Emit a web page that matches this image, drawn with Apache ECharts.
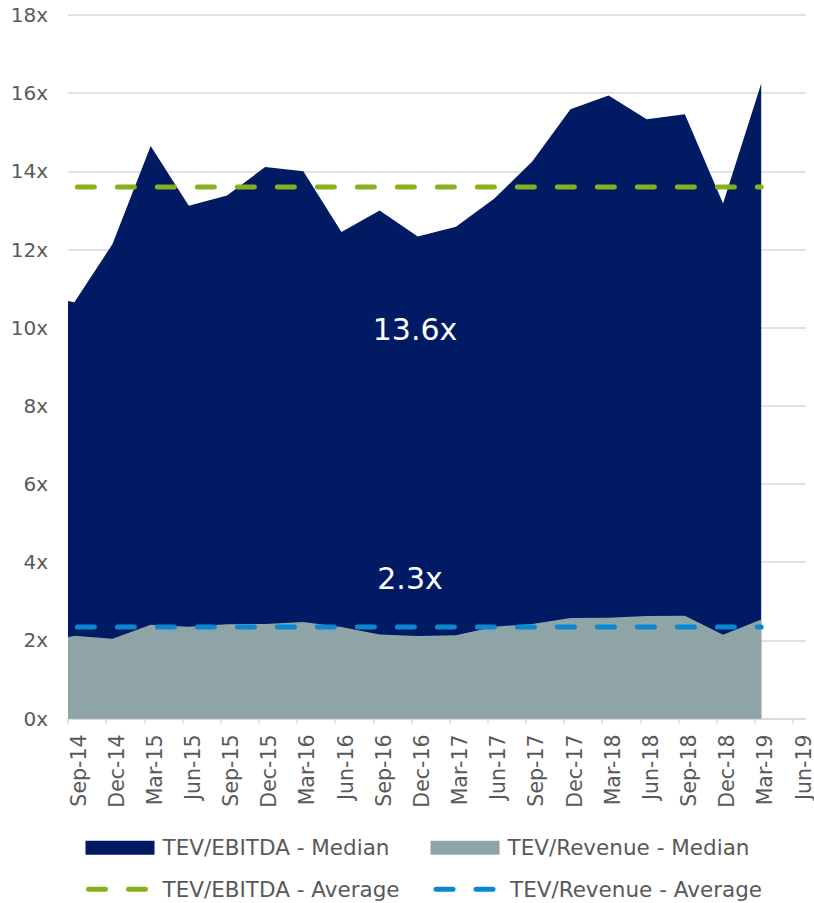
<!DOCTYPE html>
<html>
<head>
<meta charset="utf-8">
<title>TEV multiples</title>
<script src="https://cdn.jsdelivr.net/npm/echarts@6.0.0/dist/echarts.min.js"></script>
<style>
  html, body { margin: 0; padding: 0; background: #fff; }
  #main { width: 814px; height: 903px; }
</style>
</head>
<body>
<div id="main"></div>
<script>
// quarter tick labels on the date axis
var xLabels = ['Sep-14', 'Dec-14', 'Mar-15', 'Jun-15', 'Sep-15', 'Dec-15', 'Mar-16', 'Jun-16',
  'Sep-16', 'Dec-16', 'Mar-17', 'Jun-17', 'Sep-17', 'Dec-17', 'Mar-18', 'Jun-18',
  'Sep-18', 'Dec-18', 'Mar-19', 'Jun-19'];

// observation dates
var dates = ['2014-09-01', '2014-09-16', '2014-12-16', '2015-03-16', '2015-06-16', '2015-09-16',
  '2015-12-16', '2016-03-16', '2016-06-16', '2016-09-16', '2016-12-16', '2017-03-16',
  '2017-06-16', '2017-09-16', '2017-12-16', '2018-03-16', '2018-06-16', '2018-09-16',
  '2018-12-16', '2019-03-16'];

var ebitdaMedian = [10.68, 10.65, 12.14, 14.65, 13.12, 13.38, 14.11, 14.00, 12.45, 13.00,
  12.33, 12.58, 13.30, 14.25, 15.59, 15.94, 15.33, 15.46, 13.18, 16.25];
var revenueMedian = [2.08, 2.12, 2.04, 2.40, 2.35, 2.41, 2.42, 2.47, 2.34, 2.15,
  2.11, 2.13, 2.35, 2.42, 2.57, 2.58, 2.62, 2.63, 2.14, 2.53];

var ebitdaAverage = 13.6;
var revenueAverage = 2.34;

var seriesNames = ['TEV/EBITDA - Median', 'TEV/Revenue - Median', 'TEV/EBITDA - Average', 'TEV/Revenue - Average'];

var FONT = 'DejaVu Sans';
var NAVY = '#001a63';
var GREY = '#8ea4a7';
var GREEN = '#86b11c';
var BLUE = '#0a87d2';

// months since Sep-14
function monthPos(d) {
  var p = d.split('-');
  return (+p[0] - 2014) * 12 + (+p[1] - 9) + (+p[2] - 1) / 30;
}

function pairs(values) {
  return values.map(function (v, i) { return [monthPos(dates[i]), v]; });
}

function flat(v) {
  // average lines run from the second observation to the last
  return dates.slice(1).map(function (d) { return [monthPos(d), v]; });
}

var tickValues = xLabels.map(function (l, i) { return i * 3; });

var chart = echarts.init(document.getElementById('main'), null, { renderer: 'svg' });

var dashLine = function (color) {
  return { color: color, width: 5, type: [17, 23], dashOffset: -3, cap: 'round' };
};

var option = {
  animation: false,
  textStyle: { fontFamily: FONT },
  grid: { left: 68, right: 6, top: 15, bottom: 184.5 },
  legend: {
    left: 83,
    top: 836,
    width: 700,
    padding: 0,
    itemWidth: 69,
    itemHeight: 14,
    itemGap: 18,
    textStyle: { fontFamily: FONT, fontSize: 21.5, color: '#595959', width: 250, lineHeight: 23.5, padding: [0, 0, 0, 3] },
    lineStyle: { width: 5, type: [17, 23], dashOffset: -3, cap: 'round' },
    data: [
      { name: seriesNames[0], icon: 'rect' },
      { name: seriesNames[1], icon: 'rect' },
      { name: seriesNames[2], itemStyle: { opacity: 0 } },
      { name: seriesNames[3], itemStyle: { opacity: 0 } }
    ]
  },
  xAxis: {
    type: 'value',
    min: 0,
    max: 58,
    interval: 3,
    splitLine: { show: false },
    axisLine: { lineStyle: { color: '#d9d9d9', width: 1.5 } },
    axisTick: { customValues: tickValues, length: 5, lineStyle: { color: '#d9d9d9', width: 1.5 } },
    axisLabel: {
      customValues: tickValues,
      rotate: 90,
      margin: 16,
      fontSize: 20.5,
      color: '#595959',
      fontFamily: FONT,
      verticalAlign: 'top',
      formatter: function (v) { return xLabels[Math.round(v / 3)] || ''; }
    }
  },
  yAxis: {
    type: 'value',
    min: 0,
    max: 18,
    interval: 2,
    axisLine: { show: false },
    axisTick: { show: false },
    splitLine: { lineStyle: { color: '#d9d9d9', width: 1.5 } },
    axisLabel: { margin: 20, fontSize: 20, color: '#595959', fontFamily: FONT, formatter: '{value}x' }
  },
  graphic: [
    {
      type: 'text', x: 415, y: 329, z: 100,
      style: { text: ebitdaAverage.toFixed(1) + 'x', fill: '#fff', font: '30px "DejaVu Sans"', textAlign: 'center', textVerticalAlign: 'middle' }
    },
    {
      type: 'text', x: 410, y: 578, z: 100,
      style: { text: revenueAverage.toFixed(1) + 'x', fill: '#fff', font: '30px "DejaVu Sans"', textAlign: 'center', textVerticalAlign: 'middle' }
    }
  ],
  series: [
    {
      name: seriesNames[0],
      type: 'line',
      symbol: 'none',
      color: NAVY,
      lineStyle: { width: 0 },
      areaStyle: { color: NAVY, opacity: 1 },
      data: pairs(ebitdaMedian)
    },
    {
      name: seriesNames[1],
      type: 'line',
      symbol: 'none',
      color: GREY,
      lineStyle: { width: 0 },
      areaStyle: { color: GREY, opacity: 1 },
      data: pairs(revenueMedian)
    },
    {
      name: seriesNames[2],
      type: 'line',
      symbol: 'none',
      color: GREEN,
      lineStyle: dashLine(GREEN),
      data: flat(ebitdaAverage)
    },
    {
      name: seriesNames[3],
      type: 'line',
      symbol: 'none',
      color: BLUE,
      lineStyle: dashLine(BLUE),
      data: flat(revenueAverage)
    }
  ]
};

chart.setOption(option);
</script>
</body>
</html>
